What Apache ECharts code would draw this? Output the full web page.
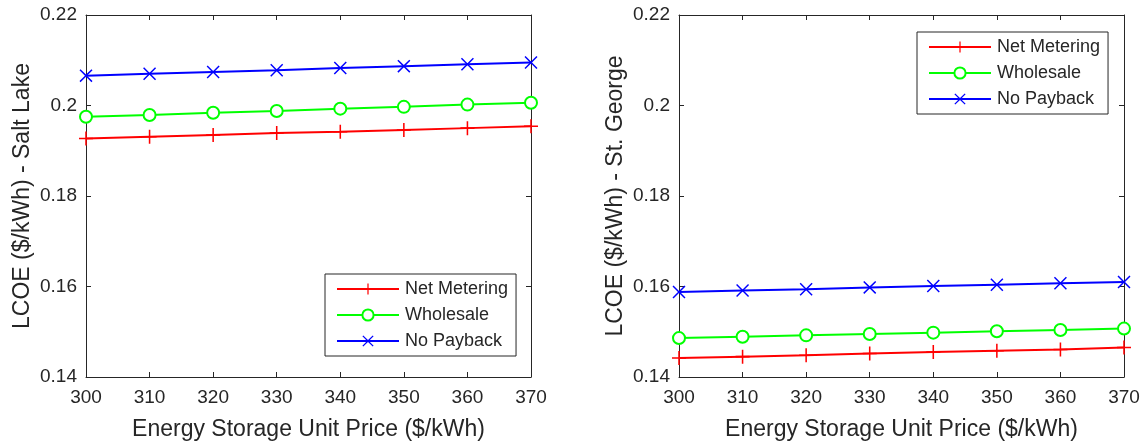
<!DOCTYPE html>
<html><head><meta charset="utf-8">
<script src="https://cdn.jsdelivr.net/npm/echarts@6/dist/echarts.min.js"></script>
<style>html,body{margin:0;padding:0;background:#fff}#c{width:1146px;height:446px}</style>
</head><body><div id="c"></div>
<script>
const prices = [300, 310, 320, 330, 340, 350, 360, 370];
const seriesNames = ['Net Metering', 'Wholesale', 'No Payback'];
const yTicks = [0.14, 0.16, 0.18, 0.2, 0.22];
const xTicks = [300, 310, 320, 330, 340, 350, 360, 370];
// Salt Lake
const slNetMetering = [0.1927, 0.1931, 0.1935, 0.1939, 0.1942, 0.1946, 0.1950, 0.1954];
const slWholesale   = [0.1975, 0.1979, 0.1984, 0.1988, 0.1993, 0.1997, 0.2002, 0.2006];
const slNoPayback   = [0.2066, 0.2070, 0.2074, 0.2078, 0.2083, 0.2087, 0.2091, 0.2095];
// St. George
const sgNetMetering = [0.1442, 0.1445, 0.1448, 0.1452, 0.1455, 0.1458, 0.1461, 0.1465];
const sgWholesale   = [0.1486, 0.1489, 0.1492, 0.1495, 0.1498, 0.1501, 0.1504, 0.1507];
const sgNoPayback   = [0.1588, 0.1591, 0.1594, 0.1598, 0.1601, 0.1604, 0.1607, 0.1610];
const yTitles = ['LCOE ($/kWh) - Salt Lake', 'LCOE ($/kWh) - St. George'];
const xTitle = 'Energy Storage Unit Price ($/kWh)';

const TXT = '#262626';
const FONT = 'Liberation Sans, Arial, Helvetica, sans-serif';
const PLUS = 'path://M44.5,0 H55.5 V44.5 H100 V55.5 H55.5 V100 H44.5 V55.5 H0 V44.5 H44.5 Z';
const CROSS = 'path://M8,0 L50,42 L92,0 L100,8 L58,50 L100,92 L92,100 L50,58 L8,100 L0,92 L42,50 L0,8 Z';
const colors = ['#ff0000', '#00ff00', '#0000ff'];
const symbols = [PLUS, 'emptyCircle', CROSS];
const symSizes = [14, 12, 13];

const grids = [
  {left: 86, top: 15, width: 445, height: 363},
  {left: 679, top: 15, width: 445, height: 363}
];
const xAxes = [], yAxes = [];
grids.forEach((g, i) => {
  const base = {gridIndex: i, type: 'value', min: 300, max: 370, interval: 10,
    axisLine: {show: true, onZero: false, lineStyle: {color: TXT, width: 1}},
    axisTick: {show: true, inside: true, length: 5, lineStyle: {color: TXT}},
    splitLine: {show: false}};
  xAxes.push(Object.assign({}, base, {position: 'bottom',
    name: xTitle, nameLocation: 'middle', nameGap: 41,
    nameTextStyle: {fontSize: 23, color: TXT, fontFamily: FONT},
    axisLabel: {fontSize: 19, color: TXT, fontFamily: FONT, margin: 11,
      formatter: v => xTicks.includes(v) ? String(v) : ''}}));
  xAxes.push(Object.assign({}, base, {position: 'top', axisLabel: {show: false}}));
  const ybase = {gridIndex: i, type: 'value', min: 0.14, max: 0.22, interval: 0.02,
    axisLine: {show: true, onZero: false, lineStyle: {color: TXT, width: 1}},
    axisTick: {show: true, inside: true, length: 5, lineStyle: {color: TXT}},
    splitLine: {show: false}};
  yAxes.push(Object.assign({}, ybase, {position: 'left',
    name: yTitles[i], nameLocation: 'middle', nameGap: 52,
    nameTextStyle: {fontSize: 23, color: TXT, fontFamily: FONT},
    axisLabel: {fontSize: 19, color: TXT, fontFamily: FONT, margin: 9,
      formatter: v => { const t = yTicks.find(k => Math.abs(k - v) < 1e-9); return t === undefined ? '' : String(t); }}}));
  yAxes.push(Object.assign({}, ybase, {position: 'right', axisLabel: {show: false}}));
});

const data = [[slNetMetering, slWholesale, slNoPayback], [sgNetMetering, sgWholesale, sgNoPayback]];
const series = [];
data.forEach((set, gi) => {
  set.forEach((vals, si) => {
    series.push({
      name: seriesNames[si], type: 'line', xAxisIndex: gi * 2, yAxisIndex: gi * 2,
      data: prices.map((p, k) => [p, vals[k]]),
      symbol: symbols[si], symbolSize: symSizes[si], showAllSymbol: true,
      lineStyle: {color: colors[si], width: 2},
      itemStyle: {color: colors[si], borderColor: colors[si], borderWidth: si === 1 ? 1.6 : 0},
      emphasis: {disabled: true}, animation: false
    });
  });
});

const legendBase = {orient: 'vertical', data: seriesNames, itemWidth: 62, itemHeight: 14, itemGap: 8,
  backgroundColor: '#fff', borderColor: TXT, borderWidth: 1, padding: [6, 8, 6, 11],
  textStyle: {fontSize: 18, color: TXT, fontFamily: FONT, padding: [0, 0, 0, 1]}, selectedMode: false};

const option = {
  animation: false,
  backgroundColor: '#fff',
  grid: grids,
  xAxis: xAxes,
  yAxis: yAxes,
  legend: [Object.assign({}, legendBase, {left: 325, top: 274}), Object.assign({}, legendBase, {left: 917, top: 32})],
  series: series
};
const chart = echarts.init(document.getElementById('c'), null, {renderer: 'canvas'});
chart.setOption(option);
</script></body></html>
